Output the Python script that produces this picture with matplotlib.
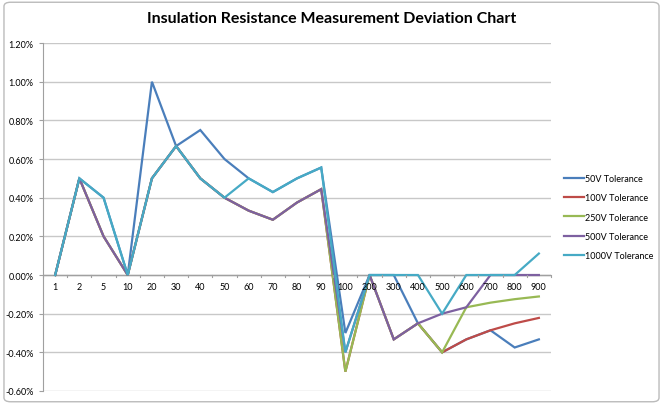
import numpy as np
import matplotlib
matplotlib.use("Agg")
import matplotlib.pyplot as plt
from matplotlib.ticker import FuncFormatter

plt.rcParams['font.family'] = ['Lato', 'DejaVu Sans']

# categories (test points)
categories = ["1", "2", "5", "10", "20", "30", "40", "50", "60", "70", "80", "90",
              "100", "200", "300", "400", "500", "600", "700", "800", "900"]

# deviation in percent
v50 = [0, 0.5, 0.4, 0, 1.0, 0.667, 0.75, 0.6, 0.5, 0.429, 0.5, 0.556,
       -0.3, 0, 0, -0.25, -0.4, -0.333, -0.286, -0.375, -0.333]
v100 = [0, 0.5, 0.2, 0, 0.5, 0.667, 0.5, 0.4, 0.333, 0.286, 0.375, 0.444,
        -0.5, 0, -0.333, -0.25, -0.4, -0.333, -0.286, -0.25, -0.222]
v250 = [0, 0.5, 0.2, 0, 0.5, 0.667, 0.5, 0.4, 0.333, 0.286, 0.375, 0.444,
        -0.5, 0, -0.333, -0.25, -0.4, -0.167, -0.143, -0.125, -0.111]
v500 = [0, 0.5, 0.2, 0, 0.5, 0.667, 0.5, 0.4, 0.333, 0.286, 0.375, 0.444,
        -0.4, 0, -0.333, -0.25, -0.2, -0.167, 0, 0, 0]
v1000 = [0, 0.5, 0.4, 0, 0.5, 0.667, 0.5, 0.4, 0.5, 0.429, 0.5, 0.556,
         -0.4, 0, 0, 0, -0.2, 0, 0, 0, 0.111]

series = [("50V Tolerance", v50, "#4A7EBB"),
          ("100V Tolerance", v100, "#BE4B48"),
          ("250V Tolerance", v250, "#98B954"),
          ("500V Tolerance", v500, "#7D60A0"),
          ("1000V Tolerance", v1000, "#46AAC5")]

fig = plt.figure(figsize=(6.63, 4.06), dpi=100)
ax = fig.add_axes([0.065, 0.0345, 0.766, 0.857])

x = np.arange(len(categories))
for name, vals, col in series:
    ax.plot(x, vals, color=col, lw=1.6, label=name, solid_joinstyle="miter")

ax.set_xlim(-0.5, len(categories) - 0.5)
ax.set_ylim(-0.6, 1.2)
ax.set_yticks(np.arange(-0.6, 1.21, 0.2))
ax.yaxis.set_major_formatter(FuncFormatter(lambda v, p: "%.2f%%" % v))
ax.grid(axis="y", color="#C8C8C8", lw=1)
ax.set_axisbelow(True)
for s in ["top", "right", "bottom"]:
    ax.spines[s].set_visible(False)
ax.spines["left"].set_color("#A0A0A0")
ax.tick_params(axis="y", length=3, color="#A0A0A0", labelsize=6.5, pad=4)

# category axis sits on zero
ax.axhline(0, color="#A0A0A0", lw=1, zorder=1)
ax.set_xticks([])
for i in range(len(categories) + 1):
    ax.plot([i - 0.5, i - 0.5], [0, -0.012], color="#A0A0A0", lw=0.8, clip_on=False)
for i, c in enumerate(categories):
    ax.text(i, -0.035, c, ha="center", va="top", fontsize=6.5)

fig.suptitle("Insulation Resistance Measurement Deviation Chart",
             fontsize=11.5, fontweight="bold", y=0.97)

ax.legend(loc="center left", bbox_to_anchor=(1.01, 0.5), frameon=False,
          fontsize=6.5, handlelength=2.2, handletextpad=0.1, labelspacing=1.15)

# chart border
border = matplotlib.patches.FancyBboxPatch((0.006, 0.008), 0.988, 0.984,
                                           boxstyle="round,pad=0,rounding_size=0.01",
                                           transform=fig.transFigure, fill=False,
                                           ec="#BBBBBB", lw=1)
fig.patches.append(border)

fig.savefig("out.png", dpi=100)
